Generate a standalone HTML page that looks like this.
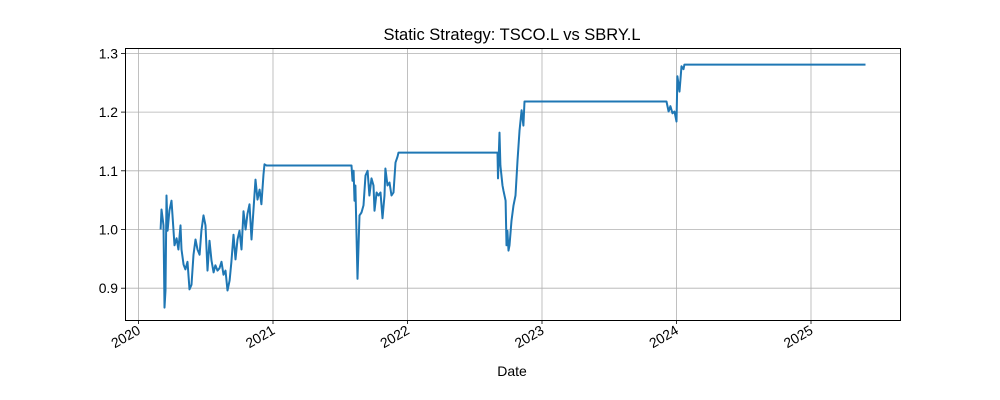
<!DOCTYPE html>
<html><head><meta charset="utf-8"><style>
body{margin:0;background:#fff;}
svg{display:block;font-family:"Liberation Sans","DejaVu Sans",sans-serif;}
</style></head><body>
<svg id="chart" width="1000" height="400" viewBox="0 0 1000 400" xmlns="http://www.w3.org/2000/svg">
<rect width="1000" height="400" fill="#fff"/>
<text x="512" y="40" text-anchor="middle" font-size="16.5" fill="#000">Static Strategy: TSCO.L vs SBRY.L</text>
<g id="grid"></g>
<g id="ticks"></g>
<path id="line" fill="none" stroke="#1f77b4" stroke-width="2" stroke-linejoin="round"/>
<rect x="125.5" y="48.5" width="775" height="272" fill="none" stroke="#000" stroke-width="1"/>
<text x="512" y="376" text-anchor="middle" font-size="14" fill="#000">Date</text>
</svg>
<script>
const dates=[2020.164,2020.171,2020.186,2020.193,2020.201,2020.208,2020.216,2020.230,2020.245,2020.253,2020.268,2020.283,2020.297,2020.312,2020.320,2020.335,2020.349,2020.364,2020.379,2020.394,2020.409,2020.424,2020.439,2020.454,2020.468,2020.483,2020.498,2020.513,2020.528,2020.543,2020.558,2020.572,2020.587,2020.602,2020.617,2020.632,2020.647,2020.662,2020.677,2020.691,2020.706,2020.721,2020.736,2020.751,2020.766,2020.781,2020.796,2020.810,2020.825,2020.840,2020.855,2020.870,2020.885,2020.900,2020.914,2020.929,2020.937,2020.952,2021.584,
2021.591,2021.599,2021.606,2021.613,2021.628,2021.643,2021.658,2021.673,2021.688,2021.703,2021.717,2021.732,2021.747,2021.755,2021.770,2021.784,2021.799,2021.814,2021.829,2021.836,2021.851,2021.866,2021.881,2021.896,2021.911,2021.926,2021.933,2022.669,
2022.673,2022.684,2022.691,2022.706,2022.714,2022.729,2022.736,2022.743,2022.751,2022.758,2022.773,2022.788,2022.803,2022.818,2022.833,2022.848,2022.862,2022.870,2023.926,
2023.941,2023.955,2023.970,2023.985,2024.000,2024.007,2024.022,2024.037,2024.052,2024.059,2025.405];
const values=[1.000,1.034,1.007,0.867,0.896,1.058,0.998,1.032,1.049,1.024,0.973,0.985,0.966,1.007,0.966,0.940,0.932,0.945,0.898,0.906,0.957,0.983,0.966,0.957,0.998,1.024,1.007,0.930,0.981,0.947,0.927,0.939,0.930,0.934,0.945,0.923,0.930,0.896,0.913,0.945,0.991,0.949,0.983,0.998,0.966,1.031,1.000,1.026,1.043,0.983,1.034,1.085,1.051,1.068,1.043,1.094,1.111,1.109,1.109,
1.083,1.100,1.049,1.075,0.916,1.024,1.029,1.041,1.092,1.100,1.058,1.087,1.075,1.032,1.063,1.058,1.063,1.019,1.058,1.104,1.075,1.080,1.058,1.063,1.114,1.124,1.131,1.131,
1.087,1.165,1.109,1.075,1.066,1.049,0.973,0.998,0.964,0.973,1.015,1.041,1.058,1.117,1.168,1.203,1.177,1.218,1.218,
1.201,1.210,1.198,1.201,1.184,1.261,1.235,1.278,1.273,1.281,1.281];
const xTicks=[2020,2021,2022,2023,2024,2025];
const yTicks=[0.9,1.0,1.1,1.2,1.3];
const yTickLabels=["0.9","1.0","1.1","1.2","1.3"];

const X=d=>138.5+(d-2020)*134.5;
const Y=v=>229.5-(v-1.0)*587;
const NS="http://www.w3.org/2000/svg";
const grid=document.getElementById('grid'),ticks=document.getElementById('ticks');
function mk(tag,attrs,parent){const e=document.createElementNS(NS,tag);for(const k in attrs)e.setAttribute(k,attrs[k]);parent.appendChild(e);return e;}
xTicks.forEach(t=>{
  const x=X(t);
  const g=mk('line',{x1:x,x2:x,y1:48,y2:320,stroke:'#b0b0b0','stroke-width':0.8},grid);
  
  
  const tk=mk('line',{x1:x,x2:x,y1:320,y2:324,stroke:'#000','stroke-width':0.8},ticks);
  
  
  const tx=mk('text',{x:x+3,y:333,'font-size':13.9,'text-anchor':'end',transform:`rotate(-30 ${x+3} 333)`},ticks);
  tx.textContent=String(t);
  
  
});
yTicks.forEach((t,i)=>{
  const y=Y(t);
  const g=mk('line',{x1:125,x2:900,y1:y,y2:y,stroke:'#b0b0b0','stroke-width':0.8},grid);
  
  
  const tk=mk('line',{x1:121,x2:125,y1:y,y2:y,stroke:'#000','stroke-width':0.8},ticks);
  
  
  const tx=mk('text',{x:118,y:y+5,'font-size':13.9,'text-anchor':'end'},ticks);
  tx.textContent=yTickLabels[i];
  
  
});
document.getElementById('line').setAttribute('d',dates.map((d,i)=>(i?'L':'M')+X(d).toFixed(1)+' '+Y(values[i]).toFixed(1)).join(''));
</script>
</body></html>
